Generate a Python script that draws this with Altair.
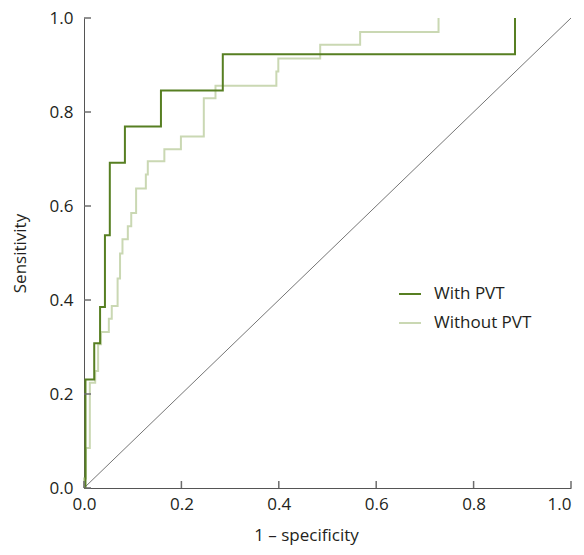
import altair as alt
import pandas as pd

# ROC staircase vertices
with_fpr = [0.0, 0.003, 0.003, 0.021, 0.021, 0.033, 0.033, 0.043, 0.043, 0.053, 0.053,
            0.084, 0.084, 0.158, 0.158, 0.285, 0.285, 0.885, 0.885]
with_tpr = [0.0, 0.0, 0.231, 0.231, 0.308, 0.308, 0.385, 0.385, 0.538, 0.538, 0.692,
            0.692, 0.769, 0.769, 0.846, 0.846, 0.923, 0.923, 1.0]

without_fpr = [0.0, 0.0, 0.004, 0.004, 0.012, 0.012, 0.023, 0.023, 0.029, 0.029, 0.035,
               0.035, 0.051, 0.051, 0.057, 0.057, 0.069, 0.069, 0.074, 0.074, 0.079,
               0.079, 0.090, 0.090, 0.097, 0.097, 0.107, 0.107, 0.127, 0.127, 0.131,
               0.131, 0.165, 0.165, 0.199, 0.199, 0.246, 0.246, 0.270, 0.270, 0.395,
               0.395, 0.399, 0.399, 0.485, 0.485, 0.567, 0.567, 0.728, 0.728]
without_tpr = [0.0, 0.02, 0.02, 0.085, 0.085, 0.224, 0.224, 0.249, 0.249, 0.306, 0.306,
               0.332, 0.332, 0.360, 0.360, 0.387, 0.387, 0.446, 0.446, 0.499, 0.499,
               0.529, 0.529, 0.557, 0.557, 0.585, 0.585, 0.637, 0.637, 0.667, 0.667,
               0.695, 0.695, 0.721, 0.721, 0.748, 0.748, 0.829, 0.829, 0.856, 0.856,
               0.886, 0.886, 0.914, 0.914, 0.943, 0.943, 0.970, 0.970, 1.0]

diag_x = [0.0, 1.0]
diag_y = [0.0, 1.0]

tick_values = [0.0, 0.2, 0.4, 0.6, 0.8, 1.0]

series_names = ["With PVT", "Without PVT"]
series_colors = ["#577f22", "#cad8b3"]

W, H = 487, 470
FONT = "Open Sans"
FS = 17

df_with = pd.DataFrame({"fpr": with_fpr, "tpr": with_tpr, "series": series_names[0],
                        "idx": range(len(with_fpr))})
df_without = pd.DataFrame({"fpr": without_fpr, "tpr": without_tpr, "series": series_names[1],
                           "idx": range(len(without_fpr))})
df_diag = pd.DataFrame({"fpr": diag_x, "tpr": diag_y})
df_ticks = pd.DataFrame({"v": tick_values})

xscale = alt.Scale(domain=[0, 1], nice=False, zero=False)
yscale = alt.Scale(domain=[0, 1], nice=False, zero=False)

xaxis = alt.Axis(title="1 – specificity", values=tick_values, format=".1f", ticks=False,
                 grid=False, domainColor="#555555", domainWidth=1, labelFontSize=FS,
                 labelFont=FONT, labelColor="#231f20", labelPadding=8, labelFlush=False,
                 labelAlign={"condition": {"test": "datum.value >= 1", "value": "right"},
                             "value": "center"},
                 titleFont=FONT, titleFontSize=FS, titleFontWeight="normal",
                 titleColor="#231f20", titlePadding=15, titleX=222)
yaxis = alt.Axis(title="Sensitivity", values=tick_values, format=".1f", ticks=False,
                 grid=False, domainColor="#555555", domainWidth=1, labelFontSize=FS,
                 labelFont=FONT, labelColor="#231f20", labelPadding=11, labelFlush=False,
                 titleFont=FONT, titleFontSize=FS, titleFontWeight="normal",
                 titleColor="#231f20", titlePadding=20)

color = alt.Color("series:N", scale=alt.Scale(domain=series_names, range=series_colors),
                  legend=alt.Legend(title=None, orient="none", legendX=314, legendY=264,
                                    symbolType="stroke", symbolSize=484, symbolStrokeWidth=2,
                                    labelFontSize=FS, labelFont=FONT, labelColor="#231f20",
                                    labelOffset=12, rowPadding=9, padding=0))

diag = alt.Chart(df_diag).mark_line(color="#3a3a3a", strokeWidth=0.7).encode(
    x=alt.X("fpr:Q", scale=xscale, axis=xaxis),
    y=alt.Y("tpr:Q", scale=yscale, axis=yaxis),
)

light = alt.Chart(df_without).mark_line(strokeWidth=2, interpolate="linear").encode(
    x=alt.X("fpr:Q", scale=xscale),
    y=alt.Y("tpr:Q", scale=yscale),
    color=color,
    order=alt.Order("idx:Q"),
)

dark = alt.Chart(df_with).mark_line(strokeWidth=2, interpolate="linear").encode(
    x=alt.X("fpr:Q", scale=xscale),
    y=alt.Y("tpr:Q", scale=yscale),
    color=color,
    order=alt.Order("idx:Q"),
)

xticks = alt.Chart(df_ticks).mark_rule(color="#6d6d6d", strokeWidth=1.5).encode(
    x=alt.X("v:Q", scale=xscale),
    y=alt.value(H),
    y2=alt.value(H - 7),
)
yticks = alt.Chart(df_ticks).mark_rule(color="#6d6d6d", strokeWidth=1.5).encode(
    y=alt.Y("v:Q", scale=yscale),
    x=alt.value(0),
    x2=alt.value(7),
)

chart = alt.layer(diag, light, dark, xticks, yticks).properties(
    width=W, height=H,
    padding={"left": 76, "top": 10, "right": 5, "bottom": 59},
    autosize=alt.AutoSizeParams(type="none"),
    background="white",
).configure_view(stroke=None)

chart.save("out.html", embed_options={"renderer": "svg", "actions": False})
